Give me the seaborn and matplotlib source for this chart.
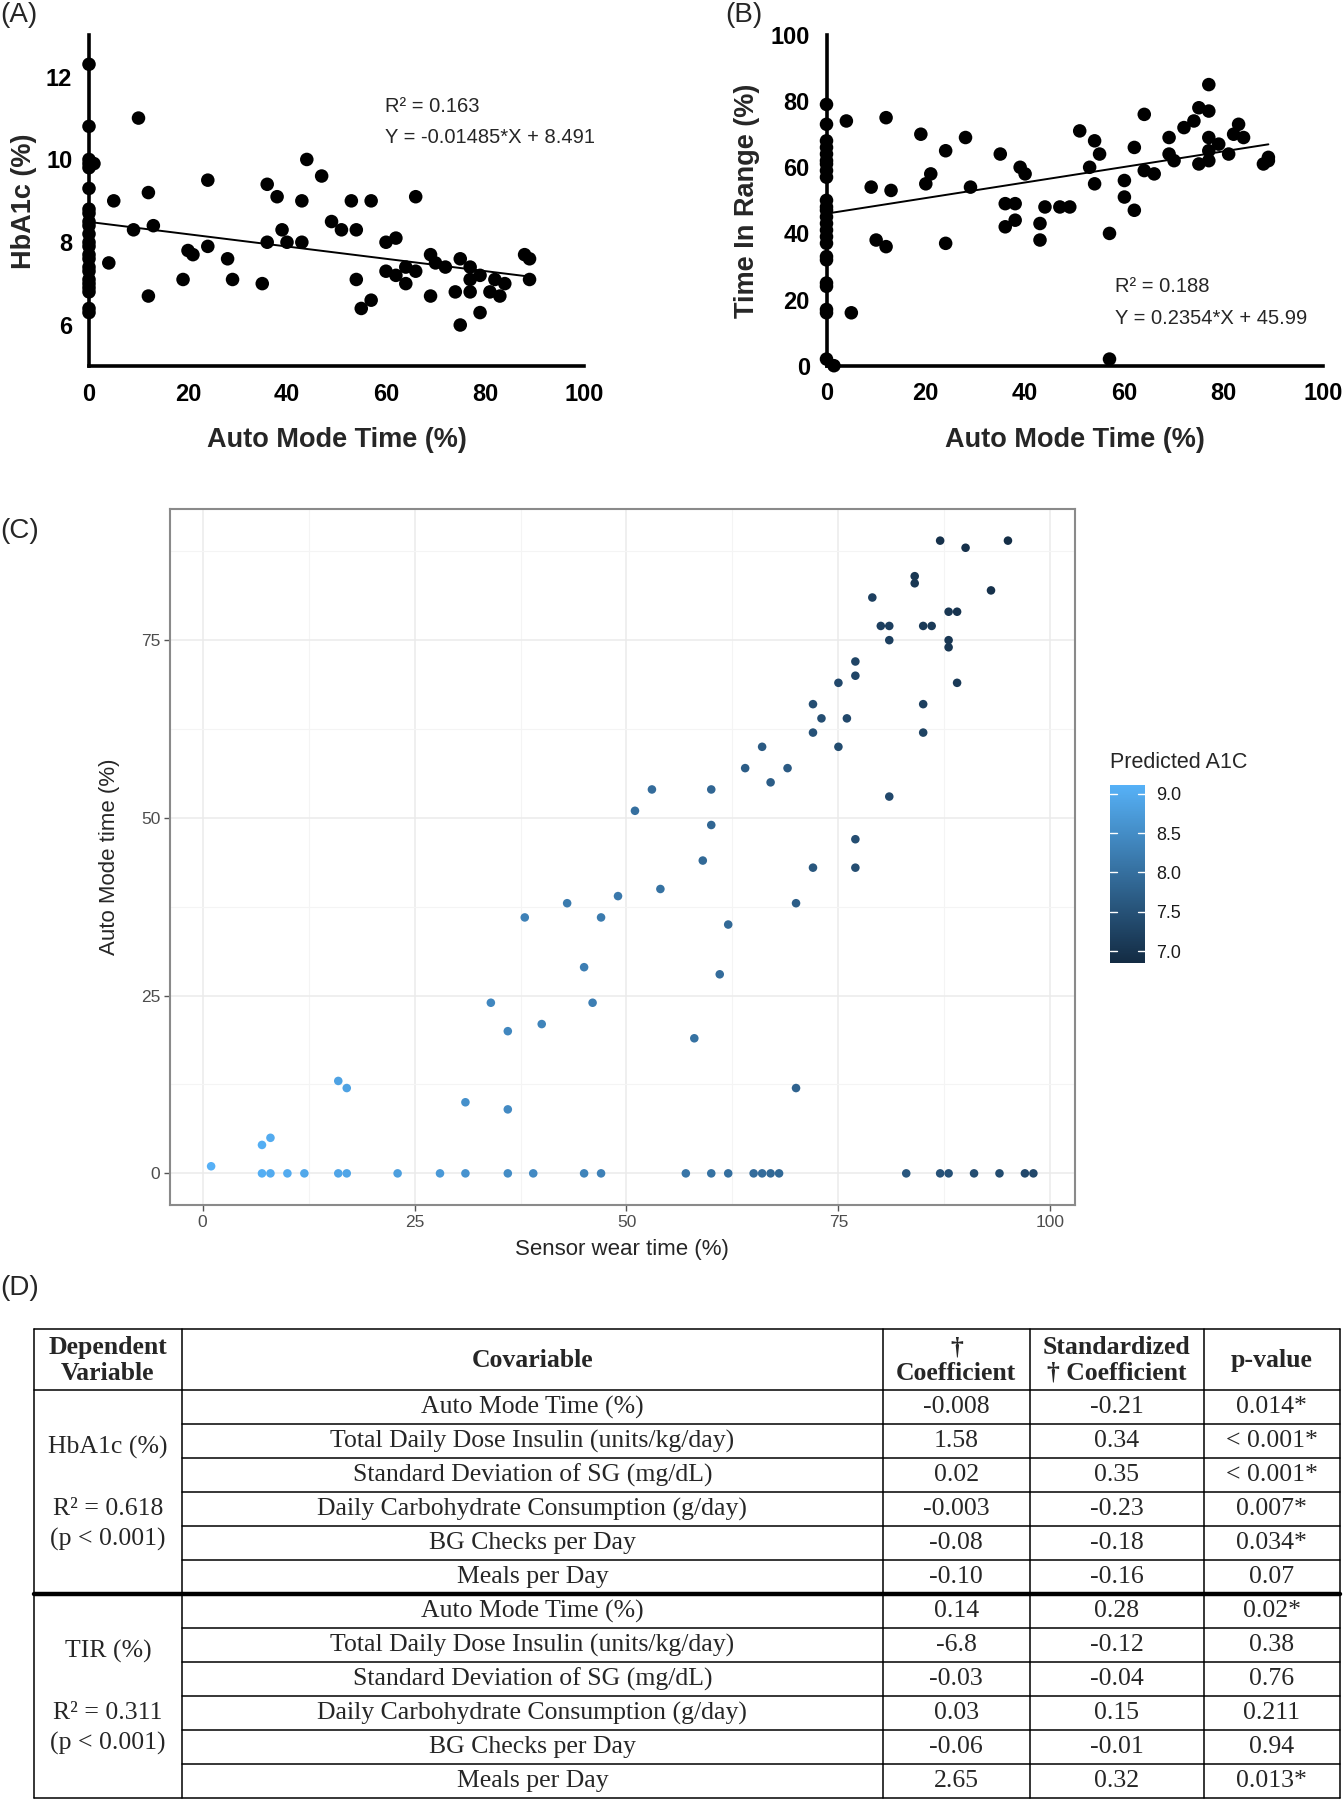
import numpy as np
import pandas as pd
import matplotlib
matplotlib.use("Agg")
import matplotlib.pyplot as plt
import seaborn as sns
from matplotlib.colors import LinearSegmentedColormap, Normalize
from matplotlib.cm import ScalarMappable

# ---------------- DATA ----------------
# Panel A: Auto Mode Time (%) vs HbA1c (%)
a_auto = [0, 0, 0, 0, 0, 0, 0, 0, 0, 0, 0, 0, 0, 0, 0, 0, 0, 0, 0, 0, 0, 0, 0,
          1, 4, 5, 9, 10, 12, 12, 13, 19, 20, 21, 24, 24, 28, 29, 35, 36, 36, 38, 39,
          40, 43, 43, 44, 47, 49, 51, 53, 54, 54, 55, 57, 57, 60, 60, 62, 62, 64, 64, 66,
          66, 69, 69, 70, 72, 74, 75, 75, 77, 77, 77, 79, 79, 81, 82, 83, 84, 88, 89, 89]
a_hba1c = [12.3, 10.8, 10.0, 9.9, 9.8, 9.3, 8.8, 8.7, 8.5, 8.4, 8.2, 8.0, 7.9, 7.7, 7.6,
           7.4, 7.3, 7.1, 7.0, 6.9, 6.8, 6.4, 6.3,
           9.9, 7.5, 9.0, 8.3, 11.0, 9.2, 6.7, 8.4, 7.1, 7.8, 7.7, 9.5, 7.9, 7.6, 7.1, 7.0,
           9.4, 8.0, 9.1, 8.3, 8.0, 9.0, 8.0, 10.0, 9.6, 8.5, 8.3, 9.0, 8.3, 7.1, 6.4, 9.0,
           6.6, 8.0, 7.3, 8.1, 7.2, 7.4, 7.0, 9.1, 7.3, 7.7, 6.7, 7.5, 7.4, 6.8, 7.6, 6.0,
           7.4, 7.1, 6.8, 7.2, 6.3, 6.8, 7.1, 6.7, 7.0, 7.7, 7.6, 7.1]
a_r2, a_slope, a_icpt = 0.163, -0.01485, 8.491

# Panel B: Auto Mode Time (%) vs Time In Range (%)
b_auto = [0, 0, 0, 0, 0, 0, 0, 0, 0, 0, 0, 0, 0, 0, 0, 0, 0, 0, 0, 0, 0, 0, 0, 0, 1.5,
          4, 5, 9, 10, 12, 12, 13, 19, 20, 21, 24, 24, 28, 29, 35, 36, 36, 38, 38, 39, 40,
          43, 43, 44, 47, 49, 51, 53, 54, 54, 55, 57, 57, 60, 60, 62, 62, 64, 64, 66, 69,
          69, 70, 72, 74, 75, 75, 77, 77, 77, 77, 77, 79, 81, 82, 83, 84, 88, 89, 89]
b_tir = [79, 73, 68, 66, 64, 62, 61, 59, 57, 50, 48, 47, 45, 43, 41, 39, 37, 33, 32, 25,
         24, 17, 16, 2, 0,
         74, 16, 54, 38, 75, 36, 53, 70, 55, 58, 65, 37, 69, 54, 64, 49, 42, 49, 44, 60, 58,
         43, 38, 48, 48, 48, 71, 60, 68, 55, 64, 2, 40, 56, 51, 66, 47, 76, 59, 58, 69,
         64, 62, 72, 74, 78, 61, 85, 77, 69, 65, 62, 67, 64, 70, 73, 69, 61, 63, 62]
b_r2, b_slope, b_icpt = 0.188, 0.2354, 45.99

# Panel C: Sensor wear time (%) vs Auto Mode time (%), coloured by predicted A1C
c_sensor = [1, 7, 8, 7, 8, 10, 12, 16, 17, 16, 17, 23, 28, 31, 31, 34, 36, 36, 36, 38,
            39, 40, 43, 45, 45, 46, 47, 47, 49, 51, 53, 54, 57, 58, 59, 60, 60, 60, 61, 62,
            62, 64, 65, 66, 66, 67, 67, 68, 69, 70, 70, 72, 72, 72, 73, 75, 75, 76, 77, 77,
            77, 77, 79, 80, 81, 81, 81, 83, 84, 84, 85, 86, 85, 85, 87, 87, 88, 88, 89, 88,
            88, 89, 90, 91, 93, 94, 95, 97, 98]
c_auto = [1, 4, 5, 0, 0, 0, 0, 0, 0, 13, 12, 0, 0, 0, 10, 24, 20, 9, 0, 36,
          0, 21, 38, 29, 0, 24, 36, 0, 39, 51, 54, 40, 0, 19, 44, 49, 54, 0, 28, 35,
          0, 57, 0, 60, 0, 55, 0, 0, 57, 38, 12, 43, 62, 66, 64, 60, 69, 64, 43, 47,
          70, 72, 81, 77, 77, 75, 53, 0, 84, 83, 77, 77, 66, 62, 89, 0, 0, 79, 79, 75,
          74, 69, 88, 0, 82, 0, 89, 0, 0]
c_pred_a1c = [9.10, 9.05, 9.00, 9.05, 9.00, 9.00, 8.95, 8.90, 8.90, 8.85, 8.85, 8.80, 8.70,
              8.60, 8.55, 8.40, 8.40, 8.45, 8.50, 8.30, 8.45, 8.35, 8.20, 8.25, 8.35, 8.25,
              8.20, 8.30, 8.15, 8.00, 7.95, 8.05, 8.10, 8.05, 7.90, 7.85, 7.85, 8.05, 7.95,
              7.90, 8.00, 7.70, 7.95, 7.65, 7.95, 7.70, 7.90, 7.90, 7.65, 7.70, 7.80, 7.60,
              7.50, 7.45, 7.45, 7.40, 7.35, 7.35, 7.45, 7.45, 7.30, 7.30, 7.20, 7.20, 7.20,
              7.20, 7.35, 7.60, 7.05, 7.05, 7.10, 7.10, 7.20, 7.25, 6.95, 7.50, 7.50, 7.05,
              7.00, 7.05, 7.05, 7.10, 6.95, 7.45, 6.95, 7.40, 6.90, 7.35, 7.35]
c_cbar_ticks = [7.0, 7.5, 8.0, 8.5, 9.0]

# Panel D: regression table
d_dependent = [["HbA1c (%)", "R² = 0.618", "(p < 0.001)"],
               ["TIR (%)", "R² = 0.311", "(p < 0.001)"]]
d_covariables = ["Auto Mode Time (%)", "Total Daily Dose Insulin (units/kg/day)",
                 "Standard Deviation of SG (mg/dL)", "Daily Carbohydrate Consumption (g/day)",
                 "BG Checks per Day", "Meals per Day"]
d_coef = [["-0.008", "1.58", "0.02", "-0.003", "-0.08", "-0.10"],
          ["0.14", "-6.8", "-0.03", "0.03", "-0.06", "2.65"]]
d_std_coef = [["-0.21", "0.34", "0.35", "-0.23", "-0.18", "-0.16"],
              ["0.28", "-0.12", "-0.04", "0.15", "-0.01", "0.32"]]
d_pvalue = [["0.014*", "< 0.001*", "< 0.001*", "0.007*", "0.034*", "0.07"],
            ["0.02*", "0.38", "0.76", "0.211", "0.94", "0.013*"]]
d_headers = ["Dependent\nVariable", "Covariable", "†\nCoefficient",
             "Standardized\n† Coefficient", "p-value"]

# ---------------- STYLE ----------------
sns.set_style("white")
plt.rcParams["font.family"] = ["Liberation Sans", "DejaVu Sans"]

W, H = 1343, 1800
fig = plt.figure(figsize=(W / 100, H / 100), dpi=100)


def fx(px):
    return px / W


def fy(py):
    return 1 - py / H


def style_prism(ax):
    sns.despine(ax=ax)
    for s in ("left", "bottom"):
        ax.spines[s].set_linewidth(2.6)
        ax.spines[s].set_color("black")
    ax.tick_params(axis="both", direction="out", length=10, width=2.6,
                   labelsize=17, pad=2, colors="black")
    for lbl in ax.get_xticklabels() + ax.get_yticklabels():
        lbl.set_fontweight("bold")


# ---------------- PANEL A ----------------
axA = fig.add_axes([fx(89), fy(366.4), fx(584 - 89), (366.4 - 35.3) / H])
dfA = pd.DataFrame({"auto": a_auto, "hba1c": a_hba1c})
sns.scatterplot(data=dfA, x="auto", y="hba1c", ax=axA, s=95, color="black",
                edgecolor="none", clip_on=False, zorder=3)
lineA = np.array([0, max(a_auto)])
sns.lineplot(x=lineA, y=a_slope * lineA + a_icpt, ax=axA, color="black", lw=1.4)
axA.set_xlim(0, 100)
axA.set_ylim(5, 13)
axA.set_xticks([0, 20, 40, 60, 80, 100])
axA.set_yticks([6, 8, 10, 12])
style_prism(axA)
axA.set_xlabel("Auto Mode Time (%)", fontsize=19.5, fontweight="bold")
axA.set_ylabel("HbA1c (%)", fontsize=19.5, fontweight="bold")
axA.xaxis.set_label_coords(0.5, (366.4 - 440) / 331.1)
axA.xaxis.label.set_va("center")
axA.yaxis.set_label_coords((24 - 89) / 495, 0.5)
axA.yaxis.label.set_va("center")
axA.text(59.8, 11.27, f"R² = {a_r2:.3f}", fontsize=14.5, va="center", ha="left")
axA.text(59.8, 10.54, f"Y = {a_slope:.5f}*X + {a_icpt:.3f}", fontsize=14.5,
         va="center", ha="left")

# ---------------- PANEL B ----------------
axB = fig.add_axes([fx(826.5), fy(365.7), fx(1323 - 826.5), (365.7 - 35) / H])
dfB = pd.DataFrame({"auto": b_auto, "tir": b_tir})
sns.scatterplot(data=dfB, x="auto", y="tir", ax=axB, s=95, color="black",
                edgecolor="none", clip_on=False, zorder=3)
lineB = np.array([0, max(b_auto)])
sns.lineplot(x=lineB, y=b_slope * lineB + b_icpt, ax=axB, color="black", lw=1.4)
axB.set_xlim(0, 100)
axB.set_ylim(0, 100)
axB.set_xticks([0, 20, 40, 60, 80, 100])
axB.set_yticks([0, 20, 40, 60, 80, 100])
style_prism(axB)
axB.set_xlabel("Auto Mode Time (%)", fontsize=19.5, fontweight="bold")
axB.set_ylabel("Time In Range (%)", fontsize=19.5, fontweight="bold")
axB.xaxis.set_label_coords(0.5, (365.7 - 440) / 330.7)
axB.xaxis.label.set_va("center")
axB.yaxis.set_label_coords((747 - 826.5) / 496.5, 0.5)
axB.yaxis.label.set_va("center")
axB.text(58.2, 23.9, f"R² = {b_r2:.3f}", fontsize=14.5, va="center", ha="left")
axB.text(58.2, 14.4, f"Y = {b_slope:.4f}*X + {b_icpt:.2f}", fontsize=14.5,
         va="center", ha="left")

# ---------------- PANEL C ----------------
axC = fig.add_axes([fx(170), fy(1205), fx(1074.5 - 170), (1205 - 509) / H])
cmap = LinearSegmentedColormap.from_list("gg", ["#132B43", "#56B1F7"])
norm = Normalize(vmin=6.85, vmax=9.11)
dfC = pd.DataFrame({"sensor": c_sensor, "auto": c_auto, "pred": c_pred_a1c})
sns.scatterplot(data=dfC, x="sensor", y="auto", hue="pred", palette=cmap,
                hue_norm=norm, legend=False, s=38, edgecolor="none", ax=axC, zorder=3)
axC.set_xlim(-3.85, 102.85)
axC.set_ylim(-4.45, 93.45)
axC.set_xticks([0, 25, 50, 75, 100])
axC.set_yticks([0, 25, 50, 75])
axC.set_xticks([12.5, 37.5, 62.5, 87.5], minor=True)
axC.set_yticks([12.5, 37.5, 62.5, 87.5], minor=True)
axC.grid(which="major", color="#ebebeb", lw=1.1)
axC.grid(which="minor", color="#f4f4f4", lw=0.8)
axC.set_axisbelow(True)
for s in axC.spines.values():
    s.set_visible(True)
    s.set_color("#8a8a8a")
    s.set_linewidth(1.5)
axC.tick_params(which="major", direction="out", length=4, width=1, color="#555555",
                labelsize=12.5, labelcolor="#4d4d4d", pad=3, bottom=True, left=True)
axC.tick_params(which="minor", length=0)
axC.set_xlabel("Sensor wear time (%)", fontsize=16)
axC.set_ylabel("Auto Mode time (%)", fontsize=16)
axC.xaxis.set_label_coords(0.5, (1205 - 1250) / 696)
axC.xaxis.label.set_va("center")
axC.yaxis.set_label_coords((110 - 170) / 904.5, 0.5)
axC.yaxis.label.set_va("center")

cax = fig.add_axes([fx(1110), fy(963), fx(35), 178 / H])
cb = fig.colorbar(ScalarMappable(norm=norm, cmap=cmap), cax=cax)
cb.outline.set_visible(False)
cb.set_ticks(c_cbar_ticks)
cb.ax.set_yticklabels([f"{t:.1f}" for t in c_cbar_ticks])
cb.ax.tick_params(length=0, labelsize=13, pad=8, labelcolor="#1a1a1a")
for t in c_cbar_ticks:
    cax.axhline(t, xmin=0, xmax=0.2, color="white", lw=1)
    cax.axhline(t, xmin=0.8, xmax=1, color="white", lw=1)
fig.text(fx(1110), fy(762), "Predicted A1C", fontsize=15.5, ha="left", va="center")

# ---------------- PANEL LABELS ----------------
for lab, x, y in [("(A)", 0, 15), ("(B)", 725, 15), ("(C)", 0, 531), ("(D)", 0, 1288)]:
    fig.text(fx(x), fy(y), lab, fontsize=20, ha="left", va="center")

# ---------------- PANEL D (table) ----------------
axD = fig.add_axes([0, 0, 1, 1], zorder=-1)
axD.set_xlim(0, W)
axD.set_ylim(H, 0)
axD.axis("off")
col_x = [34, 181.7, 883, 1029.7, 1203.5, 1339.6]
top, head_bot, bot = 1329.0, 1390.0, 1798.0
nrows = 2 * len(d_covariables)
row_h = (bot - head_bot) / nrows
serif = ["Liberation Serif", "DejaVu Serif"]
thin = 1.1
fs = 18.5

# outer / vertical lines
for x in col_x:
    axD.plot([x, x], [top, bot], color="black", lw=thin)
axD.plot([col_x[0], col_x[-1]], [top, top], color="black", lw=thin)
axD.plot([col_x[0], col_x[-1]], [bot, bot], color="black", lw=thin)
axD.plot([col_x[0], col_x[-1]], [head_bot, head_bot], color="black", lw=thin)
for r in range(1, nrows):
    y = head_bot + r * row_h
    if r == len(d_covariables):
        axD.plot([col_x[0], col_x[-1]], [y, y], color="black", lw=3.2)
    else:
        axD.plot([col_x[1], col_x[-1]], [y, y], color="black", lw=thin)

# headers
for i, h in enumerate(d_headers):
    cx = (col_x[i] + col_x[i + 1]) / 2
    axD.text(cx, (top + head_bot) / 2 + 1, h, ha="center", va="center", fontsize=fs,
             fontweight="bold", family=serif, linespacing=1.15)

# body
for g in range(2):
    g_top = head_bot + g * len(d_covariables) * row_h
    for k, cov in enumerate(d_covariables):
        cy = g_top + (k + 0.5) * row_h
        vals = [cov, d_coef[g][k], d_std_coef[g][k], d_pvalue[g][k]]
        for j, v in enumerate(vals):
            cx = (col_x[j + 1] + col_x[j + 2]) / 2
            axD.text(cx, cy, v, ha="center", va="center", fontsize=fs, family=serif)
    cx0 = (col_x[0] + col_x[1]) / 2
    dep = d_dependent[g]
    axD.text(cx0, g_top + 1.7 * row_h, dep[0], ha="center", va="center", fontsize=fs,
             family=serif)
    axD.text(cx0, g_top + 3.5 * row_h, dep[1], ha="center", va="center", fontsize=fs,
             family=serif)
    axD.text(cx0, g_top + 4.4 * row_h, dep[2], ha="center", va="center", fontsize=fs,
             family=serif)

fig.savefig("out.png", dpi=100, facecolor="white")
